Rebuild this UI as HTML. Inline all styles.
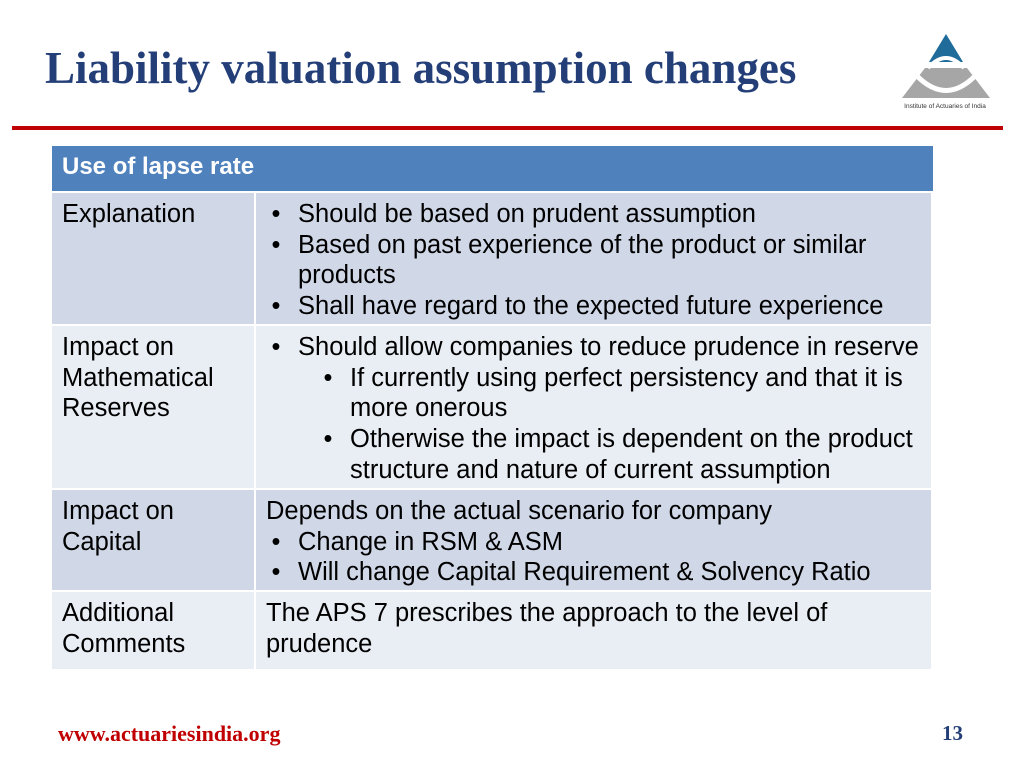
<!DOCTYPE html>
<html><head><meta charset="utf-8"><style>
body{margin:0;width:1024px;height:768px;background:#fff;position:relative;overflow:hidden;font-family:"Liberation Sans",sans-serif}
.title{position:absolute;left:45px;top:42px;font-family:"Liberation Serif",serif;font-size:45px;font-weight:bold;color:#243f78}
.rule{position:absolute;left:12px;top:126px;width:991px;height:4px;background:#c00000}
table{position:absolute;left:52px;top:146px;width:881px;border-collapse:separate;border-spacing:0 2px;margin-top:-2px;table-layout:fixed}
td{font-size:25.5px;color:#000;vertical-align:top;line-height:30.7px;padding:6px 8px 0 10px;border-right:2px solid #fff}
th{background:#4f81bd;color:#fff;text-align:left;font-size:24px;height:42px;padding:0 10px 3px;font-weight:bold}
.a td{background:#d0d8e8}.b td{background:#e9edf4}
ul{margin:0;padding-left:32px}
ul ul{padding-left:52px}
li{list-style:none;position:relative}
li:before{content:"•";position:absolute;left:-32px;width:20px;text-align:center}
.foot{position:absolute;left:58px;top:721px;font-family:"Liberation Serif",serif;font-weight:bold;font-size:22px;color:#c00000}
.num{position:absolute;left:942px;top:721px;font-family:"Liberation Serif",serif;font-weight:bold;font-size:21px;color:#243f78}
</style></head><body>
<div class="title">Liability valuation assumption changes</div>
<svg style="position:absolute;left:895px;top:30px" width="100" height="82" viewBox="0 0 100 82">
<polygon points="51,4 68,32 34,32" fill="#1f6c9b"/>
<polygon points="30,38 72,38 95,68 7,68" fill="#a6a6a6"/>
<path d="M22,46 Q51,75 80,46" stroke="#fff" stroke-width="5" fill="none"/>
<path d="M33,38 Q51,18 69,38" stroke="#fff" stroke-width="4" fill="none"/>
<text x="50" y="78" font-size="6.5" text-anchor="middle" font-family="Liberation Sans" fill="#333">Institute of Actuaries of India</text>
</svg>
<div class="rule"></div>
<table>
<colgroup><col style="width:204px"><col></colgroup>
<tr><th colspan="2">Use of lapse rate</th></tr>
<tr class="a" style="height:131px"><td>Explanation</td><td><ul><li>Should be based on prudent assumption</li><li>Based on past experience of the product or similar products</li><li>Shall have regard to the expected future experience</li></ul></td></tr>
<tr class="b" style="height:162px"><td>Impact on Mathematical Reserves</td><td><ul><li>Should allow companies to reduce prudence in reserve<ul><li>If currently using perfect persistency and that it is more onerous</li><li>Otherwise the impact is dependent on the product structure and nature of current assumption</li></ul></li></ul></td></tr>
<tr class="a" style="height:100px"><td>Impact on Capital</td><td>Depends on the actual scenario for company<ul><li>Change in RSM &amp; ASM</li><li>Will change Capital Requirement &amp; Solvency Ratio</li></ul></td></tr>
<tr class="b" style="height:77px"><td>Additional Comments</td><td>The APS 7 prescribes the approach to the level of prudence</td></tr>
</table>
<div class="foot">www.actuariesindia.org</div>
<div class="num">13</div>
</body></html>
